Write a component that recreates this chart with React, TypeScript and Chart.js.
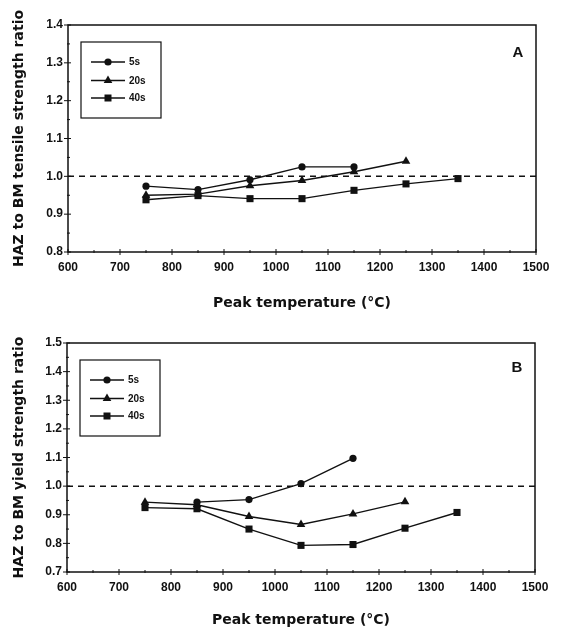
import React, { useEffect, useRef } from "react";
import { Chart, registerables } from "chart.js";

Chart.register(...registerables);

// ---- data ----
const temperatures = [750, 850, 950, 1050, 1150, 1250, 1350];
const seriesLabels = ["5s", "20s", "40s"];
const seriesMarkers = ["circle", "triangle", "rect"];

const tensile5s = [0.974, 0.965, 0.991, 1.025, 1.025];
const tensile20s = [0.95, 0.953, 0.975, 0.989, 1.012, 1.04];
const tensile40s = [0.938, 0.949, 0.941, 0.941, 0.963, 0.98, 0.994];

const yield5s = [null, 0.944, 0.953, 1.009, 1.097];
const yield20s = [0.944, 0.935, 0.894, 0.866, 0.903, 0.945];
const yield40s = [0.925, 0.921, 0.85, 0.793, 0.796, 0.853, 0.908];

const referenceRatio = 1.0;
const xTickValues = [600, 700, 800, 900, 1000, 1100, 1200, 1300, 1400, 1500];
const tensileTickValues = [0.8, 0.9, 1.0, 1.1, 1.2, 1.3, 1.4];
const yieldTickValues = [0.7, 0.8, 0.9, 1.0, 1.1, 1.2, 1.3, 1.4, 1.5];

const xTitle = "Peak temperature (°C)";
const tensileTitle = "HAZ to BM tensile strength ratio";
const yieldTitle = "HAZ to BM yield strength ratio";

const INK = "#111111";

function toPoints(values: (number | null)[]) {
  return values.map((v, i) => ({ x: temperatures[i], y: v }));
}

function drawMarker(ctx: CanvasRenderingContext2D, style: string, x: number, y: number) {
  ctx.beginPath();
  if (style === "circle") {
    ctx.arc(x, y, 3.6, 0, Math.PI * 2);
  } else if (style === "triangle") {
    const r = 5;
    ctx.moveTo(x, y - r);
    ctx.lineTo(x + r * 0.866, y + r * 0.5);
    ctx.lineTo(x - r * 0.866, y + r * 0.5);
    ctx.closePath();
  } else {
    ctx.rect(x - 3.5, y - 3.5, 7, 7);
  }
  ctx.fill();
}

function makeConfig(p: {
  letter: string;
  series: (number | null)[][];
  yTicks: number[];
  yTitle: string;
  xAxisHeight: number;
  xTitleBottom: number;
  rightPad: number;
  topPad: number;
  yWidth: number;
  letterDy: number;
}): any {
  const markerRadius: Record<string, number> = { circle: 3.6, triangle: 5, rect: 5 };
  const datasets: any[] = [
    {
      label: "ref",
      data: [
        { x: xTickValues[0], y: referenceRatio },
        { x: xTickValues[xTickValues.length - 1], y: referenceRatio },
      ],
      borderColor: INK,
      borderWidth: 1.5,
      borderDash: [6, 5],
      pointRadius: 0,
      fill: false,
    },
  ];
  p.series.forEach((vals, i) => {
    datasets.push({
      label: seriesLabels[i],
      data: toPoints(vals),
      borderColor: INK,
      backgroundColor: INK,
      borderWidth: 1.4,
      pointStyle: seriesMarkers[i],
      pointRadius: markerRadius[seriesMarkers[i]],
      pointBorderWidth: 0,
      pointBackgroundColor: INK,
      fill: false,
      tension: 0,
    });
  });

  const tickFont = { family: "Liberation Sans", weight: "bold", size: 12 };
  const titleFont = { family: "DejaVu Sans", weight: "bold", size: 14 };

  const decor = {
    id: "decor",
    afterDraw(chart: any) {
      const { ctx, chartArea } = chart;
      const { left, right, top, bottom } = chartArea;
      const xs = chart.scales.x;
      const ys = chart.scales.y;
      ctx.save();
      ctx.strokeStyle = INK;
      ctx.fillStyle = INK;
      ctx.lineWidth = 1.5;
      ctx.strokeRect(left, top, right - left, bottom - top);

      ctx.lineWidth = 1;
      const line = (x1: number, y1: number, x2: number, y2: number) => {
        ctx.beginPath();
        ctx.moveTo(x1, y1);
        ctx.lineTo(x2, y2);
        ctx.stroke();
      };
      xTickValues.forEach((v, i) => {
        const px = xs.getPixelForValue(v);
        line(px, bottom - 3, px, bottom + 3);
        if (i < xTickValues.length - 1) {
          const m = xs.getPixelForValue((v + xTickValues[i + 1]) / 2);
          line(m, bottom - 2, m, bottom + 1);
        }
      });
      p.yTicks.forEach((v, i) => {
        const py = ys.getPixelForValue(v);
        line(left - 4, py, left + 3, py);
        if (i < p.yTicks.length - 1) {
          const m = ys.getPixelForValue((v + p.yTicks[i + 1]) / 2);
          line(left - 1, m, left + 2, m);
        }
      });

      // legend box
      const bx = left + 13;
      const by = top + 17;
      const bw = 80;
      const bh = 76;
      ctx.lineWidth = 1.2;
      ctx.strokeRect(bx, by, bw, bh);
      const rows = [20, 38.5, 56];
      ctx.font = "bold 10px 'Liberation Sans'";
      ctx.textBaseline = "middle";
      ctx.textAlign = "left";
      seriesLabels.forEach((lab, i) => {
        const ry = by + rows[i];
        ctx.lineWidth = 1.4;
        line(bx + 10, ry, bx + 44, ry);
        drawMarker(ctx, seriesMarkers[i], bx + 27, ry);
        ctx.fillText(lab, bx + 48, ry + 0.5);
      });

      // panel letter
      ctx.font = "bold 15px 'Liberation Sans'";
      ctx.textAlign = "center";
      ctx.textBaseline = "middle";
      ctx.fillText(p.letter, right - 18, top + p.letterDy);
      ctx.restore();
    },
  };

  return {
    type: "line",
    data: { datasets },
    options: {
      responsive: false,
      animation: false,
      devicePixelRatio: 1,
      layout: { padding: { left: 0, right: p.rightPad, top: p.topPad, bottom: 0 } },
      plugins: { legend: { display: false }, tooltip: { enabled: false } },
      scales: {
        x: {
          type: "linear",
          min: xTickValues[0],
          max: xTickValues[xTickValues.length - 1],
          afterBuildTicks: (s: any) => {
            s.ticks = xTickValues.map((v) => ({ value: v }));
          },
          afterFit: (s: any) => {
            s.height = p.xAxisHeight;
          },
          ticks: {
            padding: 8,
            color: INK,
            font: tickFont,
            maxRotation: 0,
            autoSkip: false,
            callback: (v: any) => String(v),
          },
          grid: { display: false, drawTicks: false },
          border: { display: false },
          title: {
            display: true,
            text: xTitle,
            color: INK,
            font: titleFont,
            padding: { top: 0, bottom: p.xTitleBottom },
          },
        },
        y: {
          type: "linear",
          min: p.yTicks[0],
          max: p.yTicks[p.yTicks.length - 1],
          afterBuildTicks: (s: any) => {
            s.ticks = p.yTicks.map((v) => ({ value: v }));
          },
          afterFit: (s: any) => {
            s.width = p.yWidth;
          },
          ticks: {
            padding: 5,
            color: INK,
            font: tickFont,
            autoSkip: false,
            callback: (v: any) => Number(v).toFixed(1),
          },
          grid: { display: false, drawTicks: false },
          border: { display: false },
          title: {
            display: true,
            text: p.yTitle,
            color: INK,
            font: titleFont,
            padding: { top: 10.5, bottom: 0 },
          },
        },
      },
    },
    plugins: [decor],
  };
}

function Panel({ config }: { config: any }) {
  const ref = useRef<HTMLCanvasElement>(null);
  useEffect(() => {
    const chart = new Chart(ref.current as HTMLCanvasElement, config);
    return () => chart.destroy();
  }, []);
  return (
    <canvas
      ref={ref}
      width={561}
      height={316}
      style={{ display: "block", width: 561, height: 316 }}
    />
  );
}

export default function App() {
  const configA = makeConfig({
    letter: "A",
    series: [tensile5s, tensile20s, tensile40s],
    yTicks: tensileTickValues,
    yTitle: tensileTitle,
    xAxisHeight: 64,
    xTitleBottom: 4.5,
    rightPad: 25,
    topPad: 25,
    yWidth: 68,
    letterDy: 28,
  });
  const configB = makeConfig({
    letter: "B",
    series: [yield5s, yield20s, yield40s],
    yTicks: yieldTickValues,
    yTitle: yieldTitle,
    xAxisHeight: 60,
    xTitleBottom: 3,
    rightPad: 26,
    topPad: 27,
    yWidth: 67,
    letterDy: 25,
  });
  return (
    <div style={{ position: "absolute", left: 0, top: 0, width: 561, height: 632, background: "#fff" }}>
      <Panel config={configA} />
      <Panel config={configB} />
    </div>
  );
}
